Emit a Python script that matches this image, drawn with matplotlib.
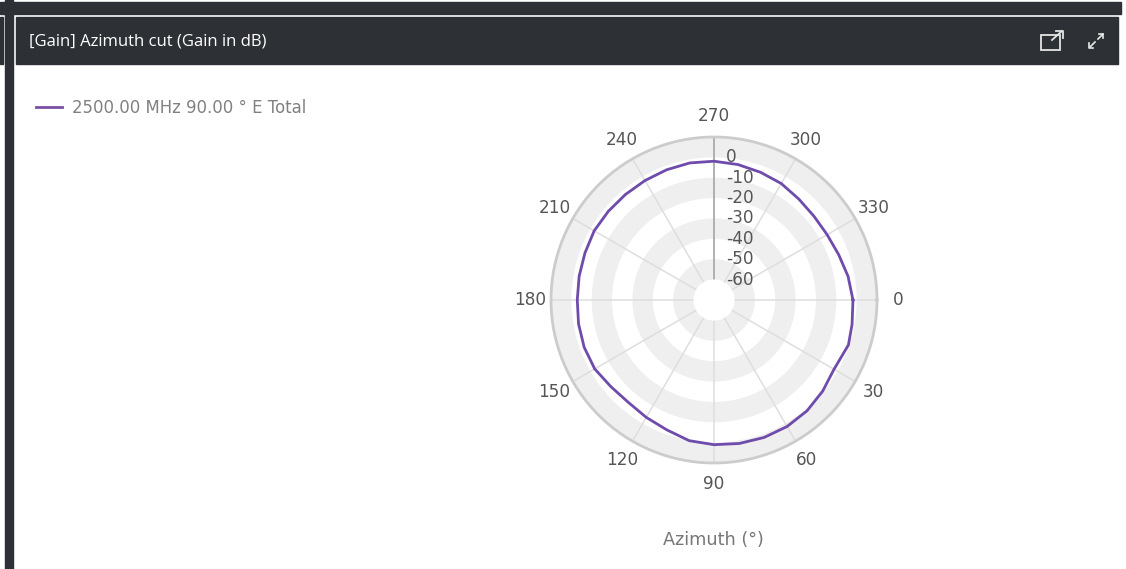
import numpy as np
import matplotlib
matplotlib.use("Agg")
import matplotlib.pyplot as plt
from matplotlib.patches import Rectangle

title = "[Gain] Azimuth cut (Gain in dB)"
series_name = "2500.00 MHz 90.00 ° E Total"
axis_name = "Azimuth (°)"

azimuth = [0, 10, 18.5, 30, 40, 50, 60, 70, 80, 90, 100, 110, 120, 130, 140, 150, 160, 170, 180,
           190, 200, 210, 220, 230, 240, 250, 260, 270, 280, 290, 300, 310, 320, 330, 340, 350, 360]
gain = [-1.8, -1.2, -0.45, -2.0, -0.4, 1.0, 1.7, 1.8, 1.5, 1.0, 0.1, -2.2, -3.5, -4.5, -3.9, -2.4, -2.2, -2.5, -2.9,
        -2.8, -2.6, -2.1, -2.3, -2.4, -2.3, -2.0, -1.7, -1.9, -2.5, -3.3, -4.0, -5.3, -6.0, -5.9, -4.9, -3.2, -1.8]
theta_ticks = [0, 30, 60, 90, 120, 150, 180, 210, 240, 270, 300, 330]
r_ticks = [0, -10, -20, -30, -40, -50, -60]
gray_bands = [(-60, -50), (-40, -30), (-20, -10), (0, 10)]

W, H = 1126, 569
DARK = "#2d3136"
fig = plt.figure(figsize=(W / 100, H / 100), dpi=100, facecolor="white")

# page chrome, in pixel coordinates
bg = fig.add_axes([0, 0, 1, 1], zorder=0)
bg.set_xlim(0, W)
bg.set_ylim(H, 0)
bg.axis("off")
bg.add_patch(Rectangle((0, 2), 1121, 12, color=DARK))
bg.add_patch(Rectangle((5, 0), 8, H, color=DARK))
bg.add_patch(Rectangle((0, 17), 3, 47, color=DARK))
bg.add_patch(Rectangle((16, 17), 1102, 47, color=DARK))
bg.text(29, 41.5, title, color="white", fontsize=11.95, family="Open Sans", va="center")

# open-in-window icon
bg.add_patch(Rectangle((1041, 35), 19, 15, fill=False, ec="#e4e4e4", lw=1.3))
bg.plot([1052, 1062], [40, 31], color="#e4e4e4", lw=1.3)
bg.plot([1056, 1063, 1063], [31, 31, 38], color="#e4e4e4", lw=1.3)
# expand icon
bg.plot([1090, 1095], [47, 42], color="#e8e8e8", lw=1.2)
bg.plot([1098, 1103], [39, 34], color="#e8e8e8", lw=1.2)
bg.plot([1089, 1089, 1093], [43, 48, 48], color="#e8e8e8", lw=1.2)
bg.plot([1099, 1103, 1103], [34, 34, 38], color="#e8e8e8", lw=1.2)

# polar plot: centre (714, 300), outer radius 163 px, hole radius 20.5 px
R = 163
ax = fig.add_axes([(714 - R) / W, 1 - (300 + R) / H, 2 * R / W, 2 * R / H],
                  projection="polar", zorder=1)
ax.patch.set_alpha(0)
ax.set_theta_zero_location("E")
ax.set_theta_direction(-1)
ax.set_rlim(-60, 10)
ax.set_rorigin(-70.07)

for low, high in gray_bands:
    ax.bar(np.pi, high - low, width=2 * np.pi, bottom=low, color="#efefef", lw=0, zorder=1)

ax.grid(False)
ax.set_yticks([])
ax.set_xticks(np.radians(theta_ticks))
ax.set_xticklabels([str(t) for t in theta_ticks], color="#555555", fontsize=12.2)
ax.tick_params(axis="x", pad=8.3, length=0)
ax.spines["polar"].set_color("#cccccc")
ax.spines["polar"].set_linewidth(2)
ax.spines["inner"].set_linewidth(0)

for t in theta_ticks:
    ax.plot([np.radians(t)] * 2, [-60, 10], color="#b0b0b0" if t == 270 else "#dedede",
            lw=1.4 if t == 270 else 1.1, zorder=2)

for v in r_ticks:
    ax.annotate(str(v), xy=(np.radians(270), v), xytext=(8.5, 0), textcoords="offset points",
                ha="left", va="center", color="#555555", fontsize=12.2, zorder=5)

ax.plot(np.radians(azimuth), gain, color="#6f4bab", lw=2, zorder=4, label=series_name)

fig.legend([plt.Line2D([], [], color="#7a4fa3", lw=2)], [series_name], loc="center left",
           bbox_to_anchor=(36 / W, 1 - 108 / H), frameon=False, fontsize=11.9,
           labelcolor="#808080", handlelength=1.55, handletextpad=0.6, borderpad=0, borderaxespad=0)

bg.text(713.5, 540, axis_name, color="#777777", fontsize=12.7, ha="center", va="center")

fig.savefig("out.png", dpi=100)
